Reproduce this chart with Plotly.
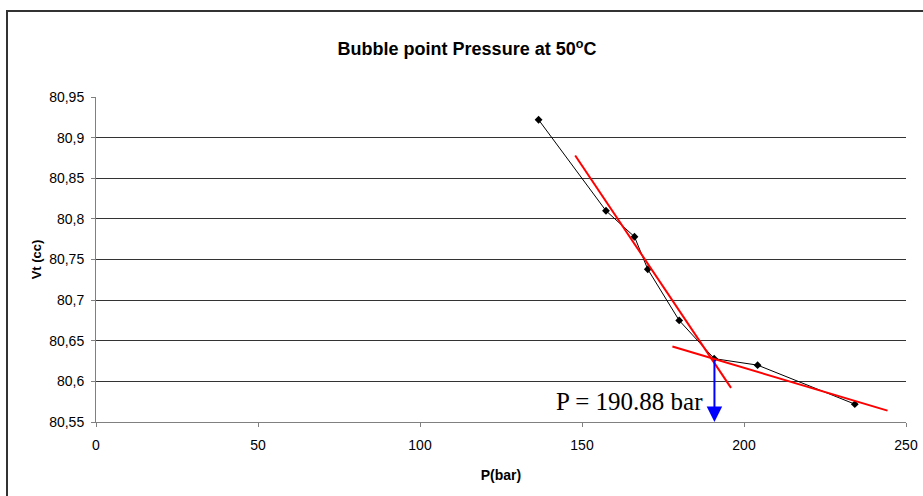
import plotly.graph_objects as go

# Measured data (P in bar, Vt in cc)
pressure = [136.6, 157.4, 166.2, 170.3, 180.0, 190.8, 204.2, 234.2]
volume = [80.922, 80.810, 80.778, 80.738, 80.675, 80.628, 80.620, 80.572]

# Trend lines (red)
fit1_x = [147.9, 196.0]
fit1_y = [80.878, 80.592]
fit2_x = [177.9, 244.3]
fit2_y = [80.643, 80.564]

# Bubble point
bubble_p = 190.88
bubble_v = 80.628
bubble_label = "P = 190.88 bar"

x_ticks = [0, 50, 100, 150, 200, 250]
y_ticks = [80.55, 80.6, 80.65, 80.7, 80.75, 80.8, 80.85, 80.9, 80.95]
y_ticktext = ["80,55", "80,6", "80,65", "80,7", "80,75", "80,8", "80,85", "80,9", "80,95"]

W, H = 923, 496
L, R, T, B = 96, 17, 97, 74

fig = go.Figure()
fig.add_trace(go.Scatter(x=pressure, y=volume, mode="lines+markers",
                         line=dict(color="black", width=1),
                         marker=dict(symbol="diamond", size=6, color="black"),
                         showlegend=False, cliponaxis=False))
fig.add_trace(go.Scatter(x=fit1_x, y=fit1_y, mode="lines",
                         line=dict(color="#FF0000", width=2), showlegend=False))
fig.add_trace(go.Scatter(x=fit2_x, y=fit2_y, mode="lines",
                         line=dict(color="#FF0000", width=2), showlegend=False))

# blue arrow
fig.add_annotation(x=bubble_p, y=y_ticks[0], ax=bubble_p, ay=bubble_v,
                   xref="x", yref="y", axref="x", ayref="y",
                   showarrow=True, arrowhead=2, arrowsize=1.55, arrowwidth=2,
                   arrowcolor="#0000FF", standoff=0, text="")
fig.add_annotation(x=bubble_p - 2.8, y=80.5758, xref="x", yref="y",
                   text=bubble_label, showarrow=False, xanchor="right", yanchor="middle",
                   font=dict(family="Liberation Serif, Times New Roman, serif", size=25, color="black"))

# outer chart border
pw, ph = W - L - R, H - T - B
fig.add_shape(type="rect", xref="paper", yref="paper",
              x0=(7 - L) / pw, x1=(W + 10 - L) / pw,
              y0=-(H + 10 - T - ph) / ph, y1=1 + (T - 11) / ph,
              line=dict(color="#333333", width=2), layer="below")

fig.update_layout(
    template="none",
    width=W, height=H,
    margin=dict(l=L, r=R, t=T, b=B, pad=0, autoexpand=False),
    paper_bgcolor="white", plot_bgcolor="white",
    font=dict(family="Liberation Sans, Arial, sans-serif", color="black"),
    title=dict(text="<b>Bubble point Pressure at 50<sup>o</sup>C</b>",
               x=467 / W, xanchor="center", y=1 - 49 / H, yanchor="middle",
               font=dict(size=18)),
    xaxis=dict(range=[0, 250], tickvals=x_ticks, showgrid=False, zeroline=False,
               automargin=False,
               showline=True, linecolor="#808080", linewidth=1,
               ticks="outside", ticklen=4, tickcolor="#808080",
               tickfont=dict(size=14), ticklabelstandoff=6,
               title=dict(text="<b>P(bar)</b>", font=dict(size=14), standoff=18)),
    yaxis=dict(range=[80.55, 80.95], tickvals=y_ticks, ticktext=y_ticktext,
               automargin=False,
               showgrid=True, gridcolor="#333333", gridwidth=1, zeroline=False,
               showline=True, linecolor="#808080", linewidth=1,
               ticks="outside", ticklen=4, tickcolor="#808080",
               tickfont=dict(size=14), ticklabelstandoff=4,
               title=dict(text="<b>Vt (cc)</b>", font=dict(size=13), standoff=4)),
)

fig.write_html("out.html")
